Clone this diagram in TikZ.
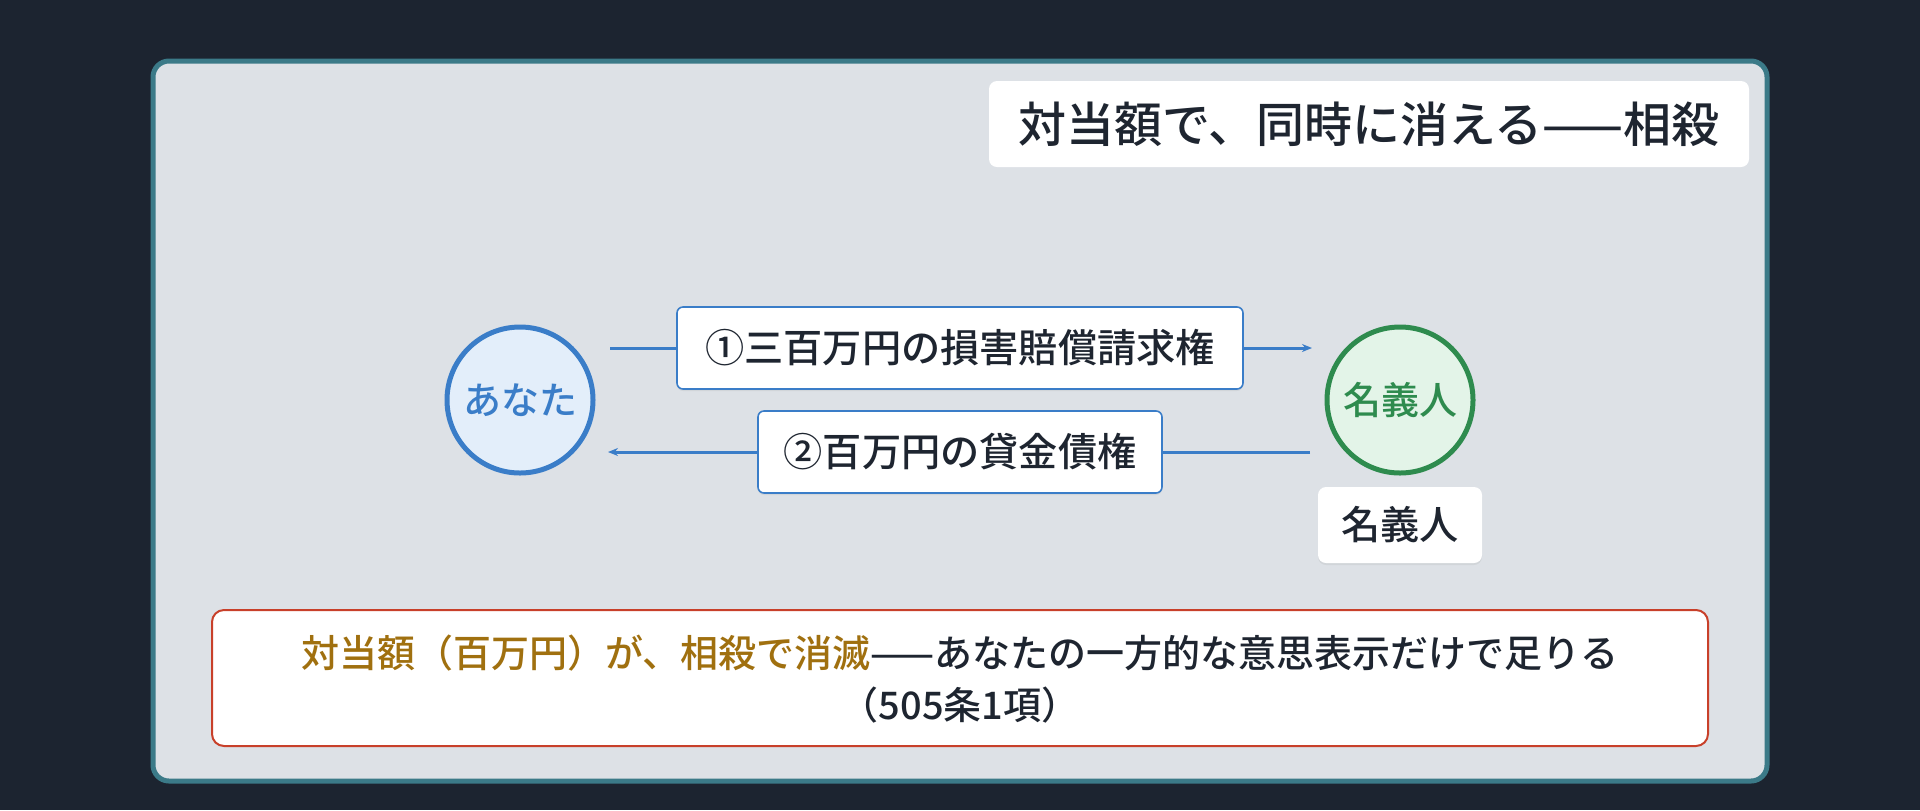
\documentclass[tikz,border=0pt]{standalone}
\usepackage{fontspec}
\setmainfont{Noto Sans CJK JP}[BoldFont={Noto Sans CJK JP Medium}]
\usetikzlibrary{arrows.meta,shadows}
\definecolor{bg}{HTML}{1C2430}
\definecolor{panel}{HTML}{DDE1E6}
\definecolor{panelline}{HTML}{3B7A88}
\definecolor{blueline}{HTML}{3A7DC8}
\definecolor{bluefill}{HTML}{E3EEFA}
\definecolor{greenline}{HTML}{2E8B4E}
\definecolor{greenfill}{HTML}{E3F4E8}
\definecolor{txt}{HTML}{1E2530}
\definecolor{redline}{HTML}{C8402A}
\definecolor{gold}{HTML}{A0700F}
\begin{document}
\begin{tikzpicture}[x=0.5pt,y=-0.5pt,
  shad/.style={drop shadow={opacity=0.12,shadow xshift=0pt,shadow yshift=-1pt}},
  lab/.style={draw=blueline,line width=0.8pt,fill=white,rounded corners=3pt,font=\fontsize{19.6}{22}\selectfont\bfseries,text=txt,inner sep=0pt,shad},
  party/.style={circle,line width=2.5pt,minimum size=73pt,inner sep=0pt,font=\fontsize{19}{22}\selectfont\bfseries},
  arr/.style={blueline,line width=1.5pt,-{Stealth[length=5pt,width=4pt]}}]
\fill[bg] (0,0) rectangle (1920,810);
\useasboundingbox (0,0) rectangle (1920,810);
\draw[panelline,fill=panel,line width=2.5pt,rounded corners=8pt] (153,61) rectangle (1767,781);
\node[fill=white,rounded corners=4pt,minimum width=380pt,minimum height=43pt,font=\fontsize{24}{27}\selectfont\bfseries,text=txt] (title) at (1369,124) {対当額で、同時に消える——相殺};
\node[party,draw=blueline,fill=bluefill,text=blueline] (you) at (520,400) {あなた};
\node[party,draw=greenline,fill=greenfill,text=greenline] (nom) at (1400,400) {名義人};
\coordinate (a1s) at (610,348); \coordinate (a1e) at (1312,348);
\coordinate (a2s) at (1310,452); \coordinate (a2e) at (608,452);
\draw[arr] (a1s) -- (a1e);
\draw[arr] (a2s) -- (a2e);
\node[lab,minimum width=283pt,minimum height=41pt] (l1) at (960,348) {①三百万円の損害賠償請求権};
\node[lab,minimum width=202pt,minimum height=41pt] (l2) at (960,452) {②百万円の貸金債権};
\node[fill=white,rounded corners=4pt,minimum width=82pt,minimum height=38pt,font=\fontsize{19.6}{22}\selectfont\bfseries,text=txt,shad] (nomlab) at (1400,525) {名義人};
\draw[redline,fill=white,line width=1pt,rounded corners=6pt] (212,610) rectangle (1708,746);
\node[font=\fontsize{19}{26}\selectfont\bfseries,text=txt,align=center] (note) at (960,679) {\textcolor{gold}{対当額（百万円）が、相殺で消滅}——あなたの一方的な意思表示だけで足りる\\（505条1項）};
\end{tikzpicture}
\end{document}
